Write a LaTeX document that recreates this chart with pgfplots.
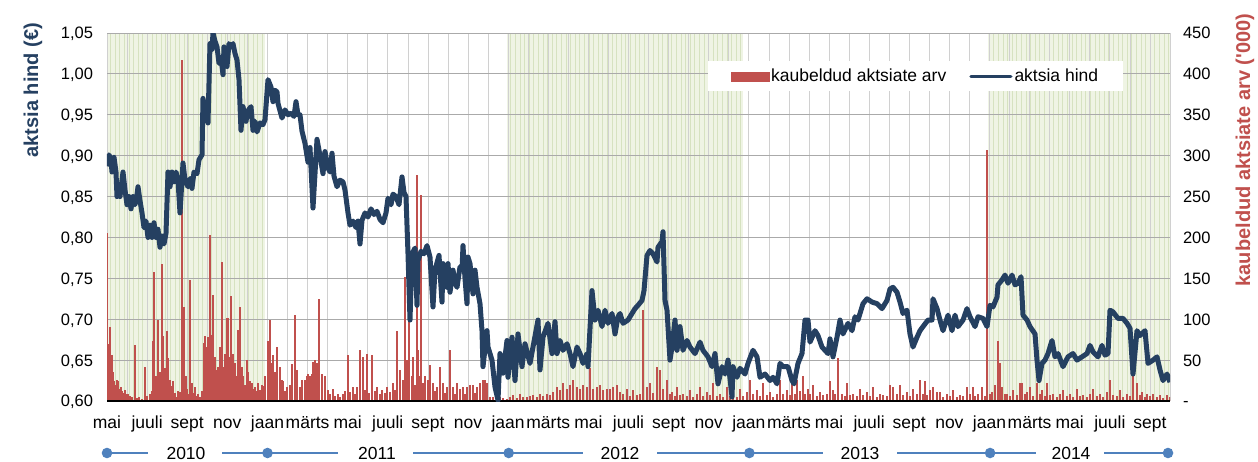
\documentclass[border=0pt]{standalone}
\usepackage{fontspec}
\setmainfont{Liberation Sans}
\usepackage{pgfplots}
\pgfplotsset{compat=1.18}
\usetikzlibrary{patterns.meta}
\definecolor{priceblue}{RGB}{37,64,97}
\definecolor{barred}{RGB}{192,80,77}
\definecolor{yearblue}{RGB}{79,129,189}
\definecolor{shadefill}{RGB}{239,244,228}
\definecolor{shadeline}{RGB}{214,226,192}
\definecolor{gridgray}{RGB}{208,208,208}
\definecolor{hgridgray}{RGB}{170,170,170}
\newcommand{\tickfont}{\fontsize{16.5}{19}\selectfont}
\newcommand{\labfont}{\fontsize{17.5}{20}\selectfont}
\begin{document}
\begin{tikzpicture}
\useasboundingbox (0,0) rectangle (1258pt,461pt);
\pgfplotsset{base/.style={at={(107pt,60pt)}, anchor=south west, width=1063pt, height=368pt, scale only axis, xmin=0, xmax=1063}}
% ---------- background shading
\begin{axis}[base, ymin=0, ymax=450, hide axis]
\fill[shadefill] (axis cs:0,0) rectangle (axis cs:158,450);
\fill[shadefill] (axis cs:400,0) rectangle (axis cs:636,450);
\fill[shadefill] (axis cs:881,0) rectangle (axis cs:1063,450);
\fill[pattern={Lines[angle=90,distance=4.6pt,line width=0.6pt]}, pattern color=shadeline] (axis cs:0,0) rectangle (axis cs:158,450);
\fill[pattern={Lines[angle=90,distance=4.6pt,line width=0.6pt]}, pattern color=shadeline] (axis cs:400,0) rectangle (axis cs:636,450);
\fill[pattern={Lines[angle=90,distance=4.6pt,line width=0.6pt]}, pattern color=shadeline] (axis cs:881,0) rectangle (axis cs:1063,450);
\end{axis}
% ---------- volume axis (right)
\begin{axis}[base, ymin=0, ymax=450,
  axis line style={draw=none},
  major tick length=0pt, minor tick length=0pt,
  xtick={0,40.11,80.23,120.34,160.45,200.57,240.68,280.79,320.91,361.02,401.13,441.25,481.36,521.47,561.58,601.70,641.81,681.92,722.04,762.15,802.26,842.38,882.49,922.60,962.72,1002.83,1042.94},
  xticklabels={mai,juuli,sept,nov,jaan,märts,mai,juuli,sept,nov,jaan,märts,mai,juuli,sept,nov,jaan,märts,mai,juuli,sept,nov,jaan,märts,mai,juuli,sept},
  minor xtick={20.06,60.17,100.28,140.40,180.51,220.62,260.74,300.85,340.96,381.08,421.19,461.30,501.42,541.53,581.64,621.75,661.87,701.98,742.09,782.21,822.32,862.43,902.55,942.66,982.77,1022.89,1063},
  xmajorgrids, xminorgrids, ymajorgrids,
  grid style={gridgray, line width=0.7pt},
  minor grid style={gridgray, line width=0.7pt},
  y grid style={hgridgray, line width=0.8pt},
  ytick={0,50,100,150,200,250,300,350,400,450},
  yticklabels={-,50,100,150,200,250,300,350,400,450},
  yticklabel pos=right,
  yticklabel style={font=\tickfont, anchor=base west, xshift=9.5pt, yshift=-5.9pt},
  xticklabel style={font=\labfont, anchor=base, yshift=-27.5pt},
  every axis y label/.style={at={(rel axis cs:1.0706,0.682)}, rotate=90, anchor=center, font=\bfseries\fontsize{20}{24}\selectfont, text=barred},
  ylabel={kaubeldud aktsiate arv (\textquotesingle000)},
]
\addplot[ycomb, barred, line width=1.2pt, no markers] table {
0 205
1 70
2 40
3 91
4 30
5 56
6 36
7 25
8 20
10 26
11 24
12 15
14 17
15 12
17 10
18 13
20 8
21 9
23 6
25 5
28 68
30 4
32 5
35 3
38 42
40 6
43 9
45 12
46 73
47 158
49 30
50 20
51 99
53 35
55 168
56 79
58 40
60 85
61 52
63 26
65 18
66 24
68 10
70 5
71 12
73 11
75 417
77 115
79 30
80 15
81 9
83 148
85 22
86 10
88 17
90 6
91 8
93 5
95 12
97 71
98 79
100 66
101 78
103 203
105 81
106 130
108 54
110 38
111 42
113 66
115 170
116 42
118 58
120 101
121 101
123 54
124 128
126 58
128 46
130 30
131 87
133 115
135 42
136 30
138 20
140 50
141 36
143 25
145 22
147 15
148 17
150 12
151 22
153 14
155 20
157 18
158 30
161 73
163 99
165 46
166 56
168 36
170 66
173 42
175 26
176 24
178 12
180 17
183 20
185 45
188 105
190 38
193 17
195 26
198 26
200 30
201 33
203 30
205 33
206 48
208 50
210 46
211 45
212 125
215 33
218 30
221 13
223 8
226 15
228 6
231 9
233 5
236 9
238 12
241 56
243 11
246 17
248 9
250 17
253 62
256 54
258 14
260 58
262 10
265 56
268 12
270 17
273 8
275 13
278 10
280 17
283 11
286 22
288 14
290 85
293 38
296 26
298 152
300 50
302 99
305 30
306 54
308 20
310 276
311 62
312 30
314 252
316 22
318 30
321 26
323 44
326 22
328 12
330 17
333 42
336 22
338 10
340 17
343 62
346 17
348 9
350 22
353 15
356 17
358 8
360 17
363 20
366 20
368 10
370 17
373 22
376 26
378 26
380 22
383 5
386 5
390 3
393 5
396 4
400 3
403 5
406 7
410 4
413 9
416 5
420 5
423 6
426 7
430 5
433 9
436 6
440 9
443 7
446 11
450 17
453 13
456 22
460 15
463 20
466 26
470 17
473 15
476 20
480 17
483 40
486 15
490 17
493 20
496 13
500 15
503 15
506 17
510 20
513 11
516 8
520 15
523 6
526 13
530 7
533 9
536 111
540 17
543 22
546 10
550 42
553 38
556 15
560 26
563 8
565 11
568 6
570 17
573 7
576 9
580 6
583 13
586 5
590 8
593 17
596 6
600 11
603 7
606 22
610 6
613 9
616 5
620 17
623 6
626 7
630 5
633 15
636 6
640 11
643 26
646 8
650 13
653 6
656 22
660 7
663 11
666 5
670 9
673 26
676 8
680 13
683 7
685 30
688 9
690 26
693 12
696 30
698 8
701 15
703 9
706 20
710 6
713 11
716 7
720 9
723 24
726 13
728 8
731 52
735 9
738 6
740 22
743 7
746 9
750 6
753 15
756 7
760 11
763 6
766 17
770 5
773 9
776 7
780 6
783 20
786 17
790 8
793 20
796 7
800 11
803 6
806 15
810 9
813 26
816 8
818 24
820 7
823 13
826 17
830 11
833 11
836 5
840 9
843 6
846 13
850 5
853 7
856 6
860 17
863 8
866 17
868 6
871 9
875 17
878 6
880 307
883 8
885 11
888 20
891 73
893 46
895 17
898 8
900 9
903 6
906 13
910 7
913 22
915 22
918 8
920 11
923 17
926 6
930 22
933 8
935 13
938 6
940 22
943 7
946 9
950 5
953 8
956 13
960 6
963 9
966 5
970 15
973 6
976 7
980 5
983 8
986 15
990 6
993 9
996 5
1000 11
1003 26
1006 7
1010 6
1013 13
1016 5
1020 9
1023 6
1026 30
1030 22
1033 7
1035 11
1038 5
1040 9
1043 6
1046 9
1050 5
1053 7
1056 4
1060 7
1063 5
};
\draw[black, line width=1.3pt] (rel axis cs:0,0) -- (rel axis cs:1,0);
\end{axis}
% ---------- price axis (left)
\begin{axis}[base, ymin=0.60, ymax=1.05,
  axis line style={draw=none},
  major tick length=0pt,
  xtick=\empty,
  ytick={0.6,0.65,0.7,0.75,0.8,0.85,0.9,0.95,1,1.05},
  yticklabels={{0,60},{0,65},{0,70},{0,75},{0,80},{0,85},{0,90},{0,95},{1,00},{1,05}},
  yticklabel style={font=\tickfont, anchor=base east, xshift=-10.5pt, yshift=-5.9pt},
  every axis y label/.style={at={(rel axis cs:-0.0696,0.845)}, rotate=90, anchor=center, font=\bfseries\fontsize{20}{24}\selectfont, text=priceblue},
  ylabel={aktsia hind (€)},
  legend columns=2,
  legend cell align=left,
  legend style={at={(rel axis cs:0.565,0.924)}, anchor=north west, draw=none, fill=white, font=\labfont, inner xsep=23pt, inner ysep=6pt, /tikz/every even column/.append style={column sep=21pt}},
]
\addlegendimage{legend image code/.code={\fill[barred] (0pt,-4.5pt) rectangle (38pt,4.5pt);}}
\addlegendentry{kaubeldud aktsiate arv}
\addplot[priceblue, line width=5pt, line join=round, legend image code/.code={\draw[priceblue, line width=3.2pt, line cap=round] (0pt,0pt) -- (40pt,0pt);}] table {
0 0.887
2 0.901
4 0.895
5 0.880
7 0.898
9 0.880
10 0.850
12 0.862
13 0.850
15 0.870
16 0.880
18 0.858
20 0.840
22 0.850
24 0.835
26 0.850
28 0.840
30 0.852
31 0.862
33 0.845
35 0.830
37 0.812
39 0.820
41 0.800
43 0.815
45 0.800
47 0.818
49 0.800
51 0.810
53 0.788
55 0.802
57 0.792
59 0.805
61 0.880
63 0.862
65 0.880
67 0.868
69 0.880
71 0.870
73 0.830
76 0.891
78 0.870
81 0.862
83 0.872
85 0.860
87 0.880
90 0.878
92 0.895
95 0.901
96 0.970
98 0.945
100 0.966
101 0.940
103 1.037
105 1.030
106 1.050
108 1.040
110 1.033
112 1.013
114 1.020
116 0.999
117 1.033
120 1.009
122 1.037
124 1.033
126 1.037
128 1.025
130 1.017
132 0.993
134 0.931
136 0.960
139 0.942
141 0.955
144 0.960
146 0.931
148 0.942
150 0.929
153 0.940
156 0.938
158 0.944
161 0.993
164 0.984
166 0.966
168 0.980
170 0.978
171 0.964
173 0.955
175 0.946
178 0.956
181 0.950
184 0.952
187 0.948
189 0.966
191 0.950
193 0.950
195 0.930
198 0.915
201 0.892
203 0.910
206 0.836
210 0.920
213 0.900
216 0.878
218 0.905
221 0.885
223 0.880
225 0.903
227 0.875
230 0.862
233 0.870
236 0.868
238 0.858
241 0.830
243 0.815
246 0.820
249 0.812
251 0.820
253 0.792
255 0.821
258 0.830
261 0.825
264 0.835
267 0.828
270 0.832
273 0.822
276 0.818
279 0.830
281 0.848
284 0.840
286 0.853
289 0.850
292 0.840
295 0.874
297 0.855
299 0.850
301 0.780
303 0.699
305 0.780
308 0.787
310 0.717
311 0.772
314 0.783
317 0.780
320 0.790
323 0.776
326 0.715
328 0.760
332 0.778
335 0.721
336 0.768
340 0.739
341 0.768
343 0.733
346 0.760
348 0.745
350 0.739
353 0.764
355 0.760
356 0.790
358 0.750
360 0.719
361 0.776
363 0.768
366 0.731
368 0.760
370 0.739
373 0.719
375 0.686
376 0.642
380 0.686
381 0.666
385 0.650
388 0.617
391 0.601
393 0.658
396 0.634
400 0.674
401 0.629
405 0.678
408 0.625
411 0.682
415 0.642
418 0.670
423 0.646
426 0.666
431 0.699
433 0.638
436 0.678
441 0.695
445 0.658
448 0.697
450 0.658
453 0.674
456 0.662
460 0.670
463 0.658
466 0.642
470 0.666
473 0.658
476 0.646
480 0.658
481 0.642
485 0.735
488 0.699
491 0.711
495 0.691
498 0.711
501 0.695
505 0.707
508 0.682
511 0.703
513 0.707
516 0.695
521 0.699
525 0.707
528 0.713
531 0.717
535 0.723
537 0.735
540 0.778
543 0.784
546 0.780
550 0.770
551 0.788
555 0.795
556 0.807
558 0.723
560 0.711
563 0.650
565 0.666
568 0.699
570 0.662
573 0.691
576 0.662
580 0.674
583 0.666
588 0.658
593 0.672
596 0.662
601 0.654
605 0.642
608 0.658
611 0.621
615 0.642
618 0.633
621 0.650
625 0.605
626 0.642
630 0.629
633 0.640
638 0.633
641 0.646
646 0.662
650 0.654
653 0.629
658 0.633
663 0.625
666 0.629
670 0.621
673 0.646
676 0.642
681 0.642
685 0.625
687 0.621
691 0.646
695 0.658
698 0.699
701 0.699
703 0.672
708 0.686
711 0.680
715 0.666
718 0.662
721 0.658
723 0.676
726 0.654
730 0.678
733 0.699
736 0.682
741 0.695
745 0.686
748 0.703
751 0.699
756 0.719
760 0.725
765 0.721
770 0.719
775 0.713
780 0.723
783 0.737
786 0.739
790 0.733
793 0.721
796 0.707
800 0.711
803 0.682
806 0.666
810 0.678
813 0.686
816 0.691
821 0.699
825 0.699
826 0.725
830 0.713
833 0.699
836 0.686
841 0.705
845 0.686
848 0.705
851 0.691
856 0.699
860 0.713
863 0.703
868 0.691
871 0.703
876 0.701
880 0.691
883 0.717
886 0.715
890 0.727
891 0.742
895 0.748
898 0.754
901 0.744
905 0.754
908 0.742
911 0.744
914 0.752
916 0.705
920 0.699
923 0.691
928 0.682
930 0.650
932 0.625
935 0.646
938 0.650
941 0.658
945 0.674
948 0.654
951 0.658
956 0.642
961 0.654
966 0.658
970 0.650
975 0.654
980 0.658
983 0.668
986 0.660
991 0.654
995 0.668
998 0.656
1001 0.658
1003 0.711
1006 0.709
1011 0.701
1016 0.701
1020 0.695
1023 0.689
1026 0.633
1030 0.686
1033 0.680
1038 0.686
1041 0.646
1046 0.650
1050 0.654
1053 0.638
1056 0.625
1060 0.633
1063 0.623
};
\addlegendentry{aktsia hind}
\end{axis}
% ---------- year row
\begin{scope}[yearblue, line width=1.3pt]
\draw (107pt,8pt) -- (148pt,8pt);
\draw (222pt,8pt) -- (267.5pt,8pt);
\draw (267.5pt,8pt) -- (338pt,8pt);
\draw (413pt,8pt) -- (508.7pt,8pt);
\draw (508.7pt,8pt) -- (583pt,8pt);
\draw (657pt,8pt) -- (749.4pt,8pt);
\draw (749.4pt,8pt) -- (823pt,8pt);
\draw (897pt,8pt) -- (990.1pt,8pt);
\draw (990.1pt,8pt) -- (1036pt,8pt);
\draw (1104pt,8pt) -- (1168pt,8pt);
\fill (107pt,8pt) circle (5.3pt);
\fill (267.5pt,8pt) circle (5.3pt);
\fill (508.7pt,8pt) circle (5.3pt);
\fill (749.4pt,8pt) circle (5.3pt);
\fill (990.1pt,8pt) circle (5.3pt);
\fill (1168pt,8pt) circle (5.3pt);
\end{scope}
\node[font=\labfont] at (186pt,8pt) {2010};
\node[font=\labfont] at (377pt,8pt) {2011};
\node[font=\labfont] at (620pt,8pt) {2012};
\node[font=\labfont] at (860pt,8pt) {2013};
\node[font=\labfont] at (1071pt,8pt) {2014};
\end{tikzpicture}
\end{document}
